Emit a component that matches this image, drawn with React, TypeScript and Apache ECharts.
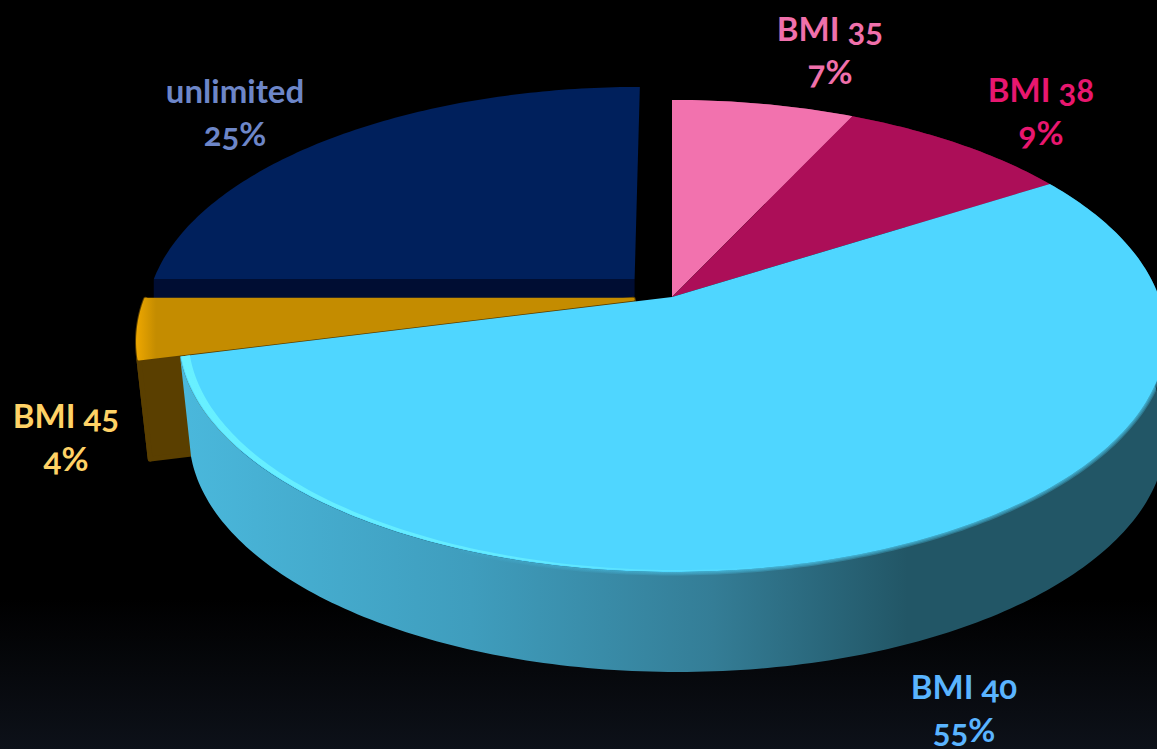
import React, { useEffect, useRef } from "react";
import * as echarts from "echarts";

// Share of each BMI limit, clockwise from twelve o'clock.
const names = ["BMI 35", "BMI 38", "BMI 40", "BMI 45", "unlimited"];
const shares = [7, 9, 55, 4, 25];
// Back-to-front painting order, so nearer slices cover farther ones.
const paintOrder = [4, 3, 0, 1, 2];

// How far each slice is pulled out of the pie, as a fraction of its radius.
const explode = [0, 0, 0, 0.08, 0.11];
const topFill = ["#f272ae", "#ac0e58", "#4fd6ff", "#c48c00", "#00205c"];
const sideFill = ["#8a3a60", "#60082f", "#225666", "#5a3f00", "#000d33"];
const labelFill = ["#f070ab", "#e8176f", "#5ab4ff", "#ffd266", "#6d86c8"];
const labelAt: [number, number][] = [
  [830, 49],
  [1041, 110],
  [964, 707],
  [66, 436],
  [235, 111],
];

// Perspective view of the pie's unit circle.
const CX = 672;
const CY = 297;
const RX = 487;
const RY = 229.6;
const TILT = 0.165;
const DEPTH = 100;

type Pt = [number, number];

const project = (u: number, v: number): Pt => {
  const w = 1 - TILT * v;
  return [CX + (RX * u) / w, CY + (RY * v) / w];
};
const lower = ([x, y]: Pt): Pt => [CX + 5.5 + (x - CX) * 0.989, y + DEPTH];

const polar = (pct: number, r: number): Pt => {
  const a = (pct / 100) * Math.PI * 2;
  return [r * Math.sin(a), -r * Math.cos(a)];
};

function App() {
  const ref = useRef<HTMLDivElement>(null);

  useEffect(() => {
    const chart = echarts.init(ref.current!, undefined, { renderer: "svg" });
    const linear = echarts.graphic.LinearGradient;

    const renderItem = (params: any, api: any) => {
      const i = paintOrder[params.dataIndex];
      const share = api.value(0);
      const from = api.value(1);
      const to = from + share;
      const mid = polar((from + to) / 2, explode[i]);

      const at = (pct: number, r = 1): Pt => {
        const p = polar(pct, r);
        return project(p[0] + mid[0], p[1] + mid[1]);
      };
      const arc = (a: number, b: number, r = 1): Pt[] => {
        const pts: Pt[] = [];
        const steps = Math.max(2, Math.ceil(Math.abs(b - a) * 4));
        for (let s = 0; s <= steps; s++) pts.push(at(a + ((b - a) * s) / steps, r));
        return pts;
      };
      const apex = project(mid[0], mid[1]);
      const rim = arc(from, to);
      const children: any[] = [];

      // Outer wall; the far quarter shows only its front cut face.
      if (i !== 4) {
        const wall = [...rim, ...rim.map(lower).reverse()];
        let wallFill: any = sideFill[i];
        if (i === 2) {
          wallFill = new linear(
            180, 0, 1150, 0,
            [
              { offset: 0, color: "#4ab8dc" },
              { offset: 0.3, color: "#3f9dbd" },
              { offset: 0.55, color: "#347d96" },
              { offset: 0.75, color: "#225666" },
              { offset: 1, color: "#225666" },
            ],
            true
          );
        }
        const rounded = i === 3 ? { stroke: wallFill, lineWidth: 5, lineJoin: "round" } : {};
        children.push({ type: "polygon", shape: { points: wall }, style: { fill: wallFill, ...rounded } });
      }
      if (i === 3) {
        const edge = at(from);
        children.push({
          type: "polygon",
          shape: { points: [apex, edge, lower(edge), lower(apex)] },
          style: { fill: sideFill[i], stroke: sideFill[i], lineWidth: 5, lineJoin: "round" },
        });
      }
      if (i === 4) {
        const edge = at(from);
        children.push({
          type: "polygon",
          shape: { points: [apex, edge, [edge[0], edge[1] + DEPTH], [apex[0], apex[1] + DEPTH]] },
          style: { fill: sideFill[i] },
        });
      }

      // Top surface.
      let fill: any = topFill[i];
      if (i === 3) {
        fill = new linear(
          134, 0, 156, 0,
          [
            { offset: 0, color: "#f2aa00" },
            { offset: 1, color: "#c48c00" },
          ],
          true
        );
      }
      children.push({
        type: "polygon",
        shape: { points: [apex, ...rim] },
        style: i === 3 ? { fill, stroke: fill, lineWidth: 3, lineJoin: "round" } : { fill },
      });

      if (i === 2) {
        // Soft falloff where the top meets the shaded right-hand wall.
        const falloff = new linear(
          430, 0, 800, 0,
          [
            { offset: 0, color: "rgba(79,214,255,0)" },
            { offset: 1, color: "rgba(79,214,255,0.28)" },
          ],
          true
        );
        [7, 4.5, 2].forEach((lineWidth) => {
          children.push({
            type: "polyline",
            shape: { points: arc(from + 11, from + 40) },
            style: { fill: "none", stroke: falloff, lineWidth },
          });
        });
        // Bright bevel along the front-left lip, thinning as it runs round the front.
        const bevelStart = to;
        const bevelEnd = to - 24;
        const steps = 96;
        const outer: Pt[] = [];
        const inner: Pt[] = [];
        for (let s = 0; s <= steps; s++) {
          const t = s / steps;
          const pct = bevelStart + (bevelEnd - bevelStart) * t;
          outer.push(at(pct, 0.998));
          inner.push(at(pct, 0.981 + 0.015 * t));
        }
        children.push({
          type: "polygon",
          shape: { points: [...outer, ...inner.reverse()] },
          style: {
            fill: new linear(
              178, 0, 800, 0,
              [
                { offset: 0, color: "rgba(104,240,255,1)" },
                { offset: 0.55, color: "rgba(104,240,255,0.8)" },
                { offset: 1, color: "rgba(104,240,255,0)" },
              ],
              true
            ),
          },
        });
      }

      return { type: "group", children };
    };

    const renderLabel = (params: any, api: any) => {
      const i = paintOrder[params.dataIndex];
      return {
        type: "text",
        x: labelAt[i][0],
        y: labelAt[i][1],
        style: {
          text: `${names[i]}\n${api.value(0)}%`,
          fill: labelFill[i],
          font: "bold 33px Lato",
          lineHeight: 43,
          align: "center",
          verticalAlign: "middle",
        },
      };
    };

    const startOf = (i: number) => shares.slice(0, i).reduce((a, b) => a + b, 0);
    const rows = paintOrder.map((i) => [shares[i], startOf(i)]);

    chart.setOption({
      animation: false,
      backgroundColor: new linear(0, 0, 0, 1, [
        { offset: 0, color: "#000000" },
        { offset: 0.8, color: "#000000" },
        { offset: 1, color: "#0d1119" },
      ]),
      series: [
        { type: "custom", coordinateSystem: "none", clip: false, silent: true, renderItem, data: rows, z: 1 },
        { type: "custom", coordinateSystem: "none", clip: false, silent: true, renderItem: renderLabel, data: rows, z: 2 },
      ],
    });

    return () => chart.dispose();
  }, []);

  return (
    <>
      <style>{`html,body{margin:0;background:#000}svg text{font-feature-settings:"onum" 1 !important}`}</style>
      <div ref={ref} style={{ width: 1157, height: 749, overflow: "hidden" }} />
    </>
  );
}

export default App;
